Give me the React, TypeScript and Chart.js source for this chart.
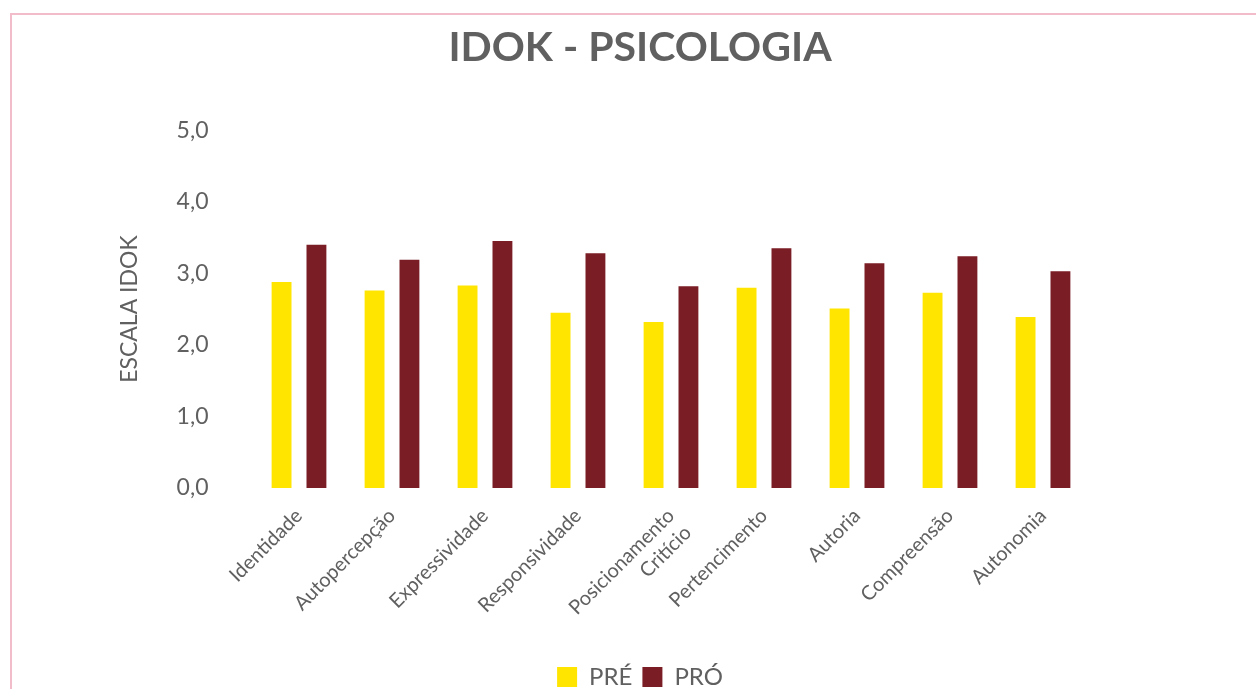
import React, { useEffect, useRef } from "react";
import { Chart, registerables } from "chart.js";

Chart.register(...registerables);

const categories: (string | string[])[] = [
  "Identidade",
  "Autopercepção",
  "Expressividade",
  "Responsividade",
  ["Posicionamento", "Critício"],
  "Pertencimento",
  "Autoria",
  "Compreensão",
  "Autonomia",
];
const preValues = [2.88, 2.76, 2.83, 2.45, 2.32, 2.80, 2.51, 2.73, 2.39];
const proValues = [3.40, 3.19, 3.45, 3.28, 2.82, 3.35, 3.14, 3.24, 3.03];
const seriesNames = ["PRÉ", "PRÓ"];
const yTicks = [0, 1, 2, 3, 4, 5];

const FONT = "Lato, 'Open Sans', sans-serif";
const GRAY = "#606060";

export default function App() {
  const ref = useRef<HTMLCanvasElement | null>(null);
  useEffect(() => {
    if (!ref.current) return;
    const chart = new Chart(ref.current, {
      type: "bar",
      data: {
        labels: categories as any,
        datasets: [
          {
            label: seriesNames[0],
            data: preValues,
            backgroundColor: "#FFE500",
            categoryPercentage: 0.75,
            barPercentage: 0.57,
          },
          {
            label: seriesNames[1],
            data: proValues,
            backgroundColor: "#7A1D25",
            categoryPercentage: 0.75,
            barPercentage: 0.57,
          },
        ],
      },
      options: {
        responsive: false,
        animation: false,
        layout: { padding: { left: 88, right: 76, top: 0, bottom: 0 } },
        plugins: {
          title: {
            display: true,
            text: "IDOK - PSICOLOGIA",
            color: GRAY,
            font: { family: FONT, size: 41, weight: "bold" },
            padding: { top: 8, bottom: 58 },
          },
          legend: {
            position: "bottom",
            labels: {
              color: GRAY,
              font: { family: FONT, size: 24 },
              boxWidth: 20,
              boxHeight: 20,
              padding: 10,
            },
          },
          tooltip: { enabled: false },
        },
        scales: {
          x: {
            grid: { display: false, drawTicks: false },
            border: { display: false },
            ticks: {
              color: GRAY,
              font: { family: FONT, size: 20 },
              maxRotation: 45,
              minRotation: 45,
              padding: 16,
            },
            afterFit: (s: any) => {
              s.height = 167;
            },
          },
          y: {
            min: 0,
            max: 5,
            grid: { display: false, drawTicks: false },
            border: { display: false },
            afterBuildTicks: (s: any) => {
              s.ticks = yTicks.map((v) => ({ value: v }));
            },
            ticks: {
              color: GRAY,
              font: { family: FONT, size: 23 },
              padding: 44,
              callback: (v: any) => Number(v).toFixed(1).replace(".", ","),
            },
            title: {
              display: true,
              text: "ESCALA IDOK",
              color: GRAY,
              font: { family: FONT, size: 23 },
              padding: { top: 16, bottom: 0 },
            },
            afterFit: (s: any) => {
              s.width = 152.5;
            },
          },
          y2: {
            type: "linear",
            position: "right",
            min: 0,
            max: 5,
            grid: { display: false, drawTicks: false },
            border: { display: false },
            ticks: { display: false },
            afterFit: (s: any) => {
              s.width = 90.5;
            },
          },
        },
      },
    });
    return () => chart.destroy();
  }, []);

  return (
    <div
      style={{
        position: "fixed",
        left: 0,
        top: 0,
        width: 1256,
        height: 689,
        overflow: "hidden",
        background: "#fff",
      }}
    >
      <div style={{ position: "absolute", left: 10, top: 13, width: 1246, height: 2, background: "#F2BCCB" }} />
      <div style={{ position: "absolute", left: 10, top: 13, width: 2, height: 676, background: "#F2BCCB" }} />
      <canvas
        ref={ref}
        width={1244}
        height={684}
        style={{ position: "absolute", left: 12, top: 15, width: 1244, height: 684 }}
      />
    </div>
  );
}
